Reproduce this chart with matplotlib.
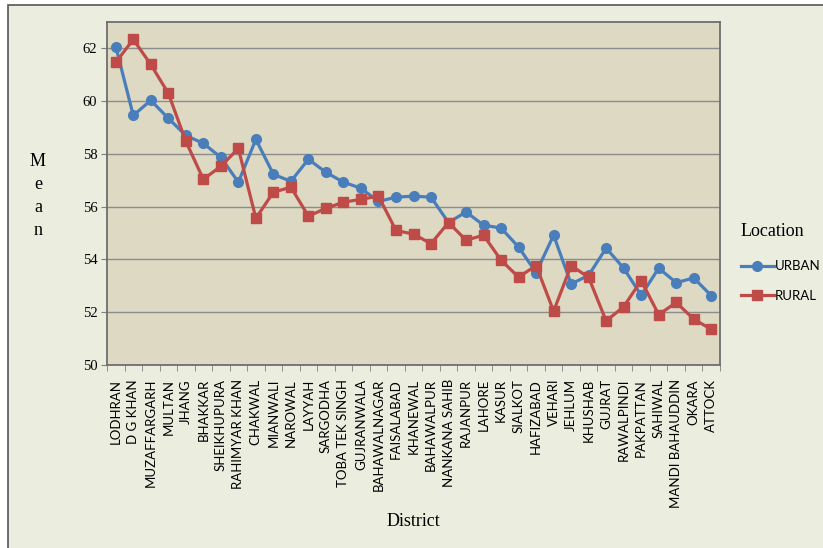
import matplotlib
matplotlib.use('Agg')
import matplotlib.pyplot as plt
from matplotlib.patches import Rectangle
from matplotlib.ticker import MultipleLocator, FixedLocator, NullFormatter

districts = ['LODHRAN', 'D G KHAN', 'MUZAFFARGARH', 'MULTAN', 'JHANG', 'BHAKKAR',
             'SHEIKHUPURA', 'RAHIMYAR KHAN', 'CHAKWAL', 'MIANWALI', 'NAROWAL', 'LAYYAH',
             'SARGODHA', 'TOBA TEK SINGH', 'GUJRANWALA', 'BAHAWALNAGAR', 'FAISALABAD',
             'KHANEWAL', 'BAHAWALPUR', 'NANKANA SAHIB', 'RAJANPUR', 'LAHORE', 'KASUR',
             'SIALKOT', 'HAFIZABAD', 'VEHARI', 'JEHLUM', 'KHUSHAB', 'GUJRAT',
             'RAWALPINDI', 'PAKPATTAN', 'SAHIWAL', 'MANDI BAHAUDDIN', 'OKARA', 'ATTOCK']

urban = [62.07, 59.46, 60.03, 59.35, 58.70, 58.40, 57.87, 56.93, 58.55, 57.23,
         56.96, 57.80, 57.30, 56.93, 56.70, 56.20, 56.36, 56.40, 56.36, 55.40,
         55.80, 55.30, 55.19, 54.47, 53.50, 54.92, 53.07, 53.40, 54.43, 53.67,
         52.64, 53.67, 53.12, 53.30, 52.63]

rural = [61.47, 62.34, 61.39, 60.30, 58.48, 57.04, 57.53, 58.21, 55.56, 56.55,
         56.74, 55.64, 55.94, 56.17, 56.28, 56.40, 55.10, 54.96, 54.60, 55.40,
         54.73, 54.92, 53.97, 53.33, 53.77, 52.04, 53.77, 53.32, 51.67, 52.21,
         53.20, 51.91, 52.37, 51.74, 51.35]

BLUE = '#4A7EBB'
RED = '#BE4B48'
SERIF = ['Liberation Serif', 'DejaVu Serif']
SANS = ['Lato', 'DejaVu Sans']

fig = plt.figure(figsize=(8.23, 5.48), dpi=100, facecolor='white')
# chart area frame, kept behind the axes
fig.patches.append(Rectangle((8 / 823, -0.05), 1.0, 1 - 5 / 548 + 0.05,
                             transform=fig.transFigure, facecolor='#EBEDDE',
                             edgecolor='#555555', linewidth=1.2, zorder=-10))

ax = fig.add_axes([107 / 823, 1 - 365 / 548, (720 - 107) / 823, (365 - 22) / 548])
ax.set_facecolor('#DDD9C3')

x = list(range(len(districts)))
ax.plot(x, urban, color=BLUE, lw=2.3, marker='o', ms=7, label='URBAN', zorder=3)
ax.plot(x, rural, color=RED, lw=2.3, marker='s', ms=7.5, label='RURAL', zorder=3)

ax.set_xlim(-0.5, len(districts) - 0.5)
ax.set_ylim(50, 63)
ax.yaxis.set_major_locator(MultipleLocator(2))
ax.grid(axis='y', color='#8C8C8C', lw=1.0)
ax.set_axisbelow(True)

ax.set_xticks(x)
ax.set_xticklabels(districts, rotation=90, fontsize=9.5, family=SANS)
ax.tick_params(axis='x', which='major', length=0, pad=10)
ax.xaxis.set_minor_locator(FixedLocator([i - 0.5 for i in range(len(districts) + 1)]))
ax.xaxis.set_minor_formatter(NullFormatter())
ax.tick_params(axis='x', which='minor', length=4, color='#7F7F7F')
ax.tick_params(axis='y', length=4, color='#7F7F7F', labelsize=10.5, pad=3)
for lbl in ax.get_yticklabels():
    lbl.set_family(SERIF)

for side in ['left', 'bottom', 'right', 'top']:
    ax.spines[side].set_color('#6E6E6E')
    ax.spines[side].set_linewidth(1.3)

fig.text(38 / 823, 1 - 196 / 548, 'M\ne\na\nn', ha='center', va='center',
         fontsize=13, family=SERIF, linespacing=1.45)
fig.text(413 / 823, 1 - 521 / 548, 'District', ha='center', va='center',
         fontsize=13, family=SERIF)

leg = fig.legend(loc='upper left', bbox_to_anchor=(738 / 823, 1 - 220 / 548),
                 frameon=False, title='Location', fontsize=9.5, handlelength=2.5,
                 labelspacing=1.3, handletextpad=0.1, borderaxespad=0,
                 borderpad=0.2)
leg.get_title().set_family(SERIF)
leg.get_title().set_fontsize(13)
leg._legend_box.align = 'left'
leg._legend_box.sep = 15
for t in leg.get_texts():
    t.set_family(SANS)

fig.savefig('out.png', dpi=100, facecolor=fig.get_facecolor())
